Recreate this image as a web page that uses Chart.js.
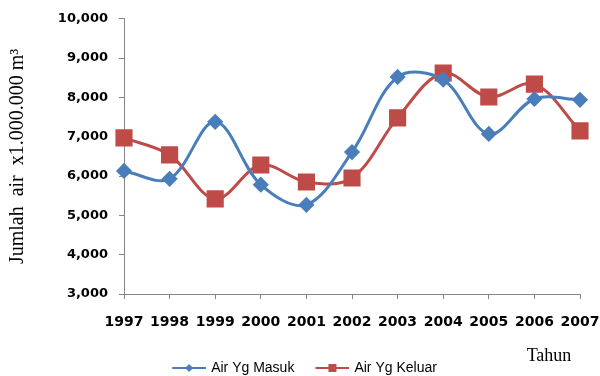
<!DOCTYPE html>
<html>
<head>
<meta charset="utf-8">
<script src="https://cdn.jsdelivr.net/npm/chart.js@4"></script>
<style>
  html, body { margin: 0; padding: 0; background: #fff; }
  #graph { display: block; }
</style>
</head>
<body>
<canvas id="graph" width="600" height="376"></canvas>
<script>
const YEARS = ["1997", "1998", "1999", "2000", "2001", "2002", "2003", "2004", "2005", "2006", "2007"];
const AIR_MASUK = [6130, 5930, 7380, 5780, 5270, 6610, 8520, 8450, 7070, 7960, 7940];
const AIR_KELUAR = [6970, 6540, 5420, 6280, 5850, 5950, 7480, 8620, 8010, 8340, 7150];
const Y_MIN = 3000;
const Y_MAX = 10000;
const Y_STEP = 1000;

const BLUE = "#4a7ebb";
const RED = "#be4b48";
const AXIS = "#868686";

// legend sample: short line with the marker in the middle, blank margin on the left
function legendIcon(color, shape) {
  const c = document.createElement("canvas");
  c.width = 53; c.height = 12;
  const g = c.getContext("2d");
  g.strokeStyle = color; g.lineWidth = 2;
  g.beginPath(); g.moveTo(19, 6); g.lineTo(53, 6); g.stroke();
  g.fillStyle = color;
  if (shape === "diamond") {
    g.beginPath(); g.moveTo(36, 2); g.lineTo(40, 6); g.lineTo(36, 10); g.lineTo(32, 6); g.closePath(); g.fill();
  } else {
    g.fillRect(32, 2, 8, 8);
  }
  return c;
}
const ICONS = [legendIcon(BLUE, "diamond"), legendIcon(RED, "square")];

const tahunLabel = {
  id: "tahunLabel",
  afterDraw(chart) {
    const ctx = chart.ctx;
    ctx.save();
    ctx.font = "18px 'Liberation Serif'";
    ctx.fillStyle = "#000";
    ctx.textAlign = "center";
    ctx.textBaseline = "middle";
    ctx.fillText("Tahun", 549, 356);
    ctx.restore();
  }
};

const IDG = document.getElementById("graph").getContext("2d");

const myChart = new Chart(IDG, {
  type: "line",
  data: {
    labels: YEARS,
    datasets: [{
      label: "Air Yg Masuk",
      data: AIR_MASUK,
      borderColor: BLUE,
      backgroundColor: BLUE,
      borderWidth: 3,
      pointStyle: "rectRot",
      pointRadius: 6,
      pointHoverRadius: 6,
      tension: 0.35,
      clip: false
    }, {
      label: "Air Yg Keluar",
      data: AIR_KELUAR,
      borderColor: RED,
      backgroundColor: RED,
      borderWidth: 3,
      pointStyle: "rect",
      pointRadius: 10,
      pointHoverRadius: 10,
      tension: 0.35,
      clip: false
    }]
  },
  options: {
    responsive: false,
    devicePixelRatio: 1,
    animation: false,
    layout: { padding: { top: 18, left: 0, right: 8, bottom: -9 } },
    scales: {
      x: {
        offset: false,
        grid: { display: true, drawOnChartArea: false, drawTicks: true, tickLength: 5, color: AXIS },
        border: { color: AXIS, width: 1 },
        ticks: { color: "#000", padding: 15, font: { family: "'DejaVu Sans'", size: 14, weight: "bold" }, maxRotation: 0, autoSkip: false },
        afterFit(s) { s.height = 63; s.paddingRight = 20; }
      },
      y: {
        min: Y_MIN,
        max: Y_MAX,
        grid: { display: true, drawOnChartArea: false, drawTicks: true, tickLength: 5, color: AXIS },
        border: { color: AXIS, width: 1 },
        ticks: {
          stepSize: Y_STEP,
          color: "#000",
          padding: 11,
          font: { family: "'DejaVu Sans'", size: 13, weight: "bold" },
          callback: (v) => v.toLocaleString("en-US")
        },
        title: {
          display: true,
          text: "Jumlah  air  x1.000.000 m³",
          color: "#000",
          font: { family: "'Liberation Serif'", size: 20 },
          padding: { top: 6, bottom: 0 }
        },
        afterFit(s) { s.width = 124; }
      }
    },
    plugins: {
      tooltip: { enabled: false },
      legend: {
        display: true,
        position: "bottom",
        labels: {
          usePointStyle: true,
          pointStyleWidth: 49,
          padding: 4,
          color: "#000",
          font: { family: "'Liberation Sans'", size: 14 },
          generateLabels(chart) {
            return chart.data.datasets.map((ds, i) => ({
              text: ds.label,
              pointStyle: ICONS[i],
              fillStyle: ds.borderColor,
              strokeStyle: ds.borderColor,
              lineWidth: 0,
              hidden: false,
              datasetIndex: i
            }));
          }
        }
      }
    }
  },
  plugins: [tahunLabel]
});
</script>
</body>
</html>
